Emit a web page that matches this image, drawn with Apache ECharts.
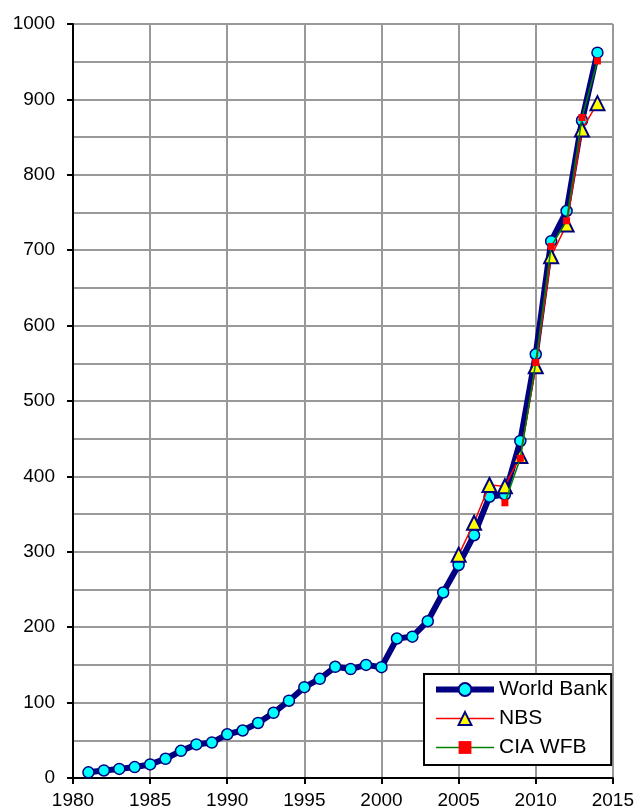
<!DOCTYPE html>
<html>
<head>
<meta charset="utf-8">
<script src="https://cdn.jsdelivr.net/npm/echarts@6/dist/echarts.min.js"></script>
<style>
html,body{margin:0;padding:0;background:#fff;}
#c{width:637px;height:812px;}
</style>
</head>
<body>
<div id="c"></div>
<script>
var wbYears = [1981,1982,1983,1984,1985,1986,1987,1988,1989,1990,1991,1992,1993,1994,1995,1996,1997,1998,1999,2000,2001,2002,2003,2004,2005,2006,2007,2008,2009,2010,2011,2012,2013,2014];
var wbValues = [7.5,10,12,14.5,18,25.5,36,44.5,47,58,63,73,86.5,102.5,120.5,131.5,147.5,144.5,150,147,185,187.5,208,246,282.5,322,373,376,447,562,712,752,872,962];
var nbsYears = [2005,2006,2007,2008,2009,2010,2011,2012,2013,2014];
var nbsValues = [296,338.5,388.5,387,427,546,692,734,860,895];
var ciaYears = [2008,2009,2010,2011,2012,2013,2014];
var ciaValues = [365,424,551,705,739,876,951];
var xTicks = [1980,1985,1990,1995,2000,2005,2010,2015];
var yTicks = [0,100,200,300,400,500,600,700,800,900,1000];

function pairs(xs, ys){ return xs.map(function(x,i){ return [x, ys[i]]; }); }

var chart = echarts.init(document.getElementById('c'), null, {renderer:'canvas'});
var font = 'Liberation Sans, Arial, sans-serif';
chart.setOption({
  animation: false,
  backgroundColor: '#ffffff',
  textStyle: {fontFamily: font},
  grid: {left: 73, right: 24, top: 24, bottom: 34, containLabel: false},
  xAxis: {
    type: 'value', min: xTicks[0], max: xTicks[xTicks.length-1], interval: 5,
    axisLine: {show: true, onZero: false, lineStyle: {color: '#000', width: 2}},
    axisTick: {show: true, inside: false, length: 6, lineStyle: {color: '#000', width: 2}},
    axisLabel: {color: '#000', fontSize: 19, fontFamily: font, margin: 13, formatter: function(v){return String(v);}},
    splitLine: {show: true, lineStyle: {color: '#999999', width: 2}}
  },
  yAxis: {
    type: 'value', min: yTicks[0], max: yTicks[yTicks.length-1], interval: 100,
    axisLine: {show: true, onZero: false, lineStyle: {color: '#000', width: 2}},
    axisTick: {show: true, inside: false, length: 6, lineStyle: {color: '#000', width: 2}},
    axisLabel: {color: '#000', fontSize: 19, fontFamily: font, margin: 18, formatter: function(v){return String(v);}},
    splitLine: {show: true, lineStyle: {color: '#999999', width: 2}},
    minorTick: {show: false, splitNumber: 2},
    minorSplitLine: {show: true, lineStyle: {color: '#999999', width: 2}}
  },
  legend: {
    orient: 'vertical', left: 424, top: 674,
    backgroundColor: '#fff', borderColor: '#000', borderWidth: 2, borderRadius: 0,
    padding: [5, 4, 7, 9], itemGap: 8, itemWidth: 58, itemHeight: 16,
    textStyle: {color: '#000', fontSize: 21, fontFamily: font},
    data: [
      {name: 'World Bank', lineStyle: {width: 6, color: '#000080'}},
      {name: 'NBS', lineStyle: {width: 1.5, color: '#ff0000'}},
      {name: 'CIA WFB', lineStyle: {width: 1.5, color: '#008000'}}
    ]
  },
  series: [
    {
      name: 'World Bank', type: 'line', z: 2,
      data: pairs(wbYears, wbValues),
      symbol: 'circle', symbolSize: 11,
      lineStyle: {color: '#000080', width: 6},
      itemStyle: {color: '#00ffff', borderColor: '#000080', borderWidth: 1.5}
    },
    {
      name: 'NBS', type: 'line', z: 3,
      data: pairs(nbsYears, nbsValues),
      symbol: 'triangle', symbolSize: 14,
      lineStyle: {color: '#ff0000', width: 1.5},
      itemStyle: {color: '#ffff00', borderColor: '#000080', borderWidth: 2}
    },
    {
      name: 'CIA WFB', type: 'line', z: 4,
      data: pairs(ciaYears, ciaValues),
      symbol: 'rect', symbolSize: 7,
      lineStyle: {color: '#008000', width: 1.5},
      itemStyle: {color: '#ff0000', borderWidth: 0}
    }
  ]
});
</script>
</body>
</html>
